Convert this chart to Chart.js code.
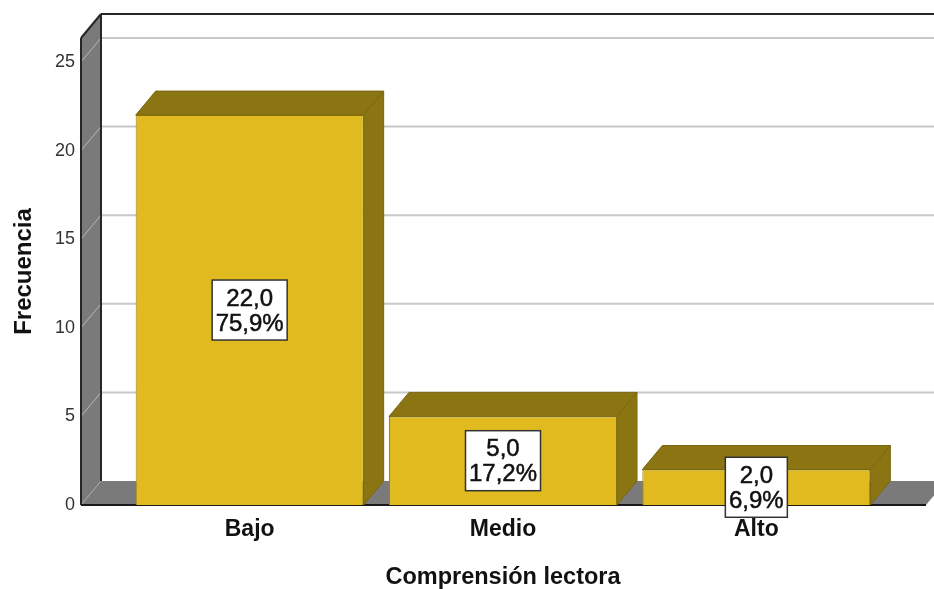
<!DOCTYPE html>
<html>
<head>
<meta charset="utf-8">
<style>html,body{margin:0;padding:0;background:#fff}canvas{display:block}</style>
<script src="https://cdn.jsdelivr.net/npm/chart.js@4"></script>
</head>
<body>
<canvas id="c" width="934" height="589"></canvas>
<script>
const categories = ["Bajo", "Medio", "Alto"];
const frequencies = [22, 5, 2];
const percentages = [75.9, 17.2, 6.9];
const yTicks = [0, 5, 10, 15, 20, 25];
const yTop = 26.35;
const xTitle = "Comprensión lectora";
const yTitle = "Frecuencia";

const DX = 20, DY = 24;
const FONT = '"Liberation Sans", Arial, sans-serif';
const comma = (v, d) => v.toFixed(d).replace('.', ',');

function poly(ctx, pts, fill, stroke) {
  ctx.beginPath();
  pts.forEach((p, i) => i ? ctx.lineTo(p[0], p[1]) : ctx.moveTo(p[0], p[1]));
  ctx.closePath();
  if (fill) { ctx.fillStyle = fill; ctx.fill(); }
  if (stroke) { ctx.strokeStyle = stroke; ctx.lineWidth = 1; ctx.stroke(); }
}
function line(ctx, x0, y0, x1, y1, color, w) {
  ctx.beginPath(); ctx.moveTo(x0, y0); ctx.lineTo(x1, y1);
  ctx.strokeStyle = color; ctx.lineWidth = w; ctx.stroke();
}

const frame3d = {
  id: 'frame3d',
  beforeDatasetsDraw(chart) {
    const { ctx, scales: { y } } = chart;
    const L = 81, R = 926;
    const B = y.getPixelForValue(0), T = y.top;
    ctx.save();
    poly(ctx, [[L, B], [L, T], [L + DX, T - DY], [L + DX, B - DY]], '#7a7a7a');
    poly(ctx, [[L, B], [R, B], [R + DX, B - DY], [L + DX, B - DY]], '#7a7a7a');
    yTicks.filter(v => v > 0).forEach(v => {
      const p = y.getPixelForValue(v);
      line(ctx, L, p, L + DX, p - DY, '#b8b8b8', 1);
      line(ctx, L + DX, p - DY, 934, p - DY, '#c8c8c8', 2);
    });
    line(ctx, L, B, L + DX, B - DY, '#a8a8a8', 1);
    line(ctx, L + DX, T - DY, L + DX, B - DY, '#262626', 2);
    line(ctx, L + DX, T - DY, 934, T - DY, '#262626', 2);
    line(ctx, L, T, L + DX, T - DY, '#262626', 2);
    line(ctx, L, T, L, B, '#262626', 2);
    line(ctx, L, B, R, B, '#1a1a1a', 2);
    ctx.restore();
  },
  afterDatasetsDraw(chart) {
    const { ctx } = chart;
    const bars = chart.getDatasetMeta(0).data;
    ctx.save();
    bars.forEach(b => {
      const l = b.x - b.width / 2, r = b.x + b.width / 2;
      poly(ctx, [[l, b.y], [l + DX, b.y - DY], [r + DX, b.y - DY], [r, b.y]], '#8b7512', '#7a6610');
      poly(ctx, [[r, b.y], [r + DX, b.y - DY], [r + DX, b.base - DY], [r, b.base]], '#8b7512', '#7a6610');
    });
    bars.forEach((b, i) => {
      const a = comma(frequencies[i], 1), c = comma(percentages[i], 1) + '%';
      ctx.font = '24px ' + FONT;
      const w = Math.round(Math.max(ctx.measureText(a).width, ctx.measureText(c).width)) + 7;
      const h = 60, cy = (b.y + b.base) / 2;
      ctx.fillStyle = '#fff';
      ctx.fillRect(b.x - w / 2, cy - h / 2, w, h);
      ctx.strokeStyle = '#333'; ctx.lineWidth = 1.5;
      ctx.strokeRect(b.x - w / 2, cy - h / 2, w, h);
      ctx.fillStyle = '#111';
      ctx.strokeStyle = '#111'; ctx.lineWidth = 0.5;
      ctx.textAlign = 'center'; ctx.textBaseline = 'middle';
      [[a, cy - 11], [c, cy + 14]].forEach(([t, ty]) => {
        ctx.fillText(t, b.x, ty);
        ctx.strokeText(t, b.x, ty);
      });
    });
    ctx.restore();
  }
};

new Chart(document.getElementById('c'), {
  type: 'bar',
  data: {
    labels: categories,
    datasets: [{
      data: frequencies,
      backgroundColor: '#e0ba1e',
      borderColor: '#9a8418',
      borderWidth: 1,
      barPercentage: 0.9,
      categoryPercentage: 1
    }]
  },
  plugins: [frame3d],
  options: {
    responsive: false,
    animation: false,
    layout: { padding: { top: 38, right: 51, left: 0, bottom: 0 } },
    plugins: { legend: { display: false }, tooltip: { enabled: false } },
    scales: {
      x: {
        grid: { display: false },
        border: { display: false },
        afterFit(s) { s.height = 84; s.paddingLeft = 0; s.paddingRight = 0; },
        ticks: { color: '#111', font: { family: FONT, size: 23, weight: 'bold' }, padding: 3, maxRotation: 0 },
        title: { display: true, text: xTitle, color: '#111', font: { family: FONT, size: 23.5, weight: 'bold', lineHeight: 0.95 }, padding: { top: 0, bottom: 0 } }
      },
      y: {
        min: 0,
        max: yTop,
        grid: { display: false },
        border: { display: false },
        afterFit(s) { s.width = 123; s.paddingTop = 0; s.paddingBottom = 0; },
        afterBuildTicks(s) { s.ticks = yTicks.map(value => ({ value })); },
        ticks: { color: '#333', font: { family: FONT, size: 18 }, padding: 40 },
        title: { display: true, text: yTitle, color: '#111', font: { family: FONT, size: 24, weight: 'bold' }, padding: { top: 10, bottom: 2 } }
      }
    }
  }
});
</script>
</body>
</html>
